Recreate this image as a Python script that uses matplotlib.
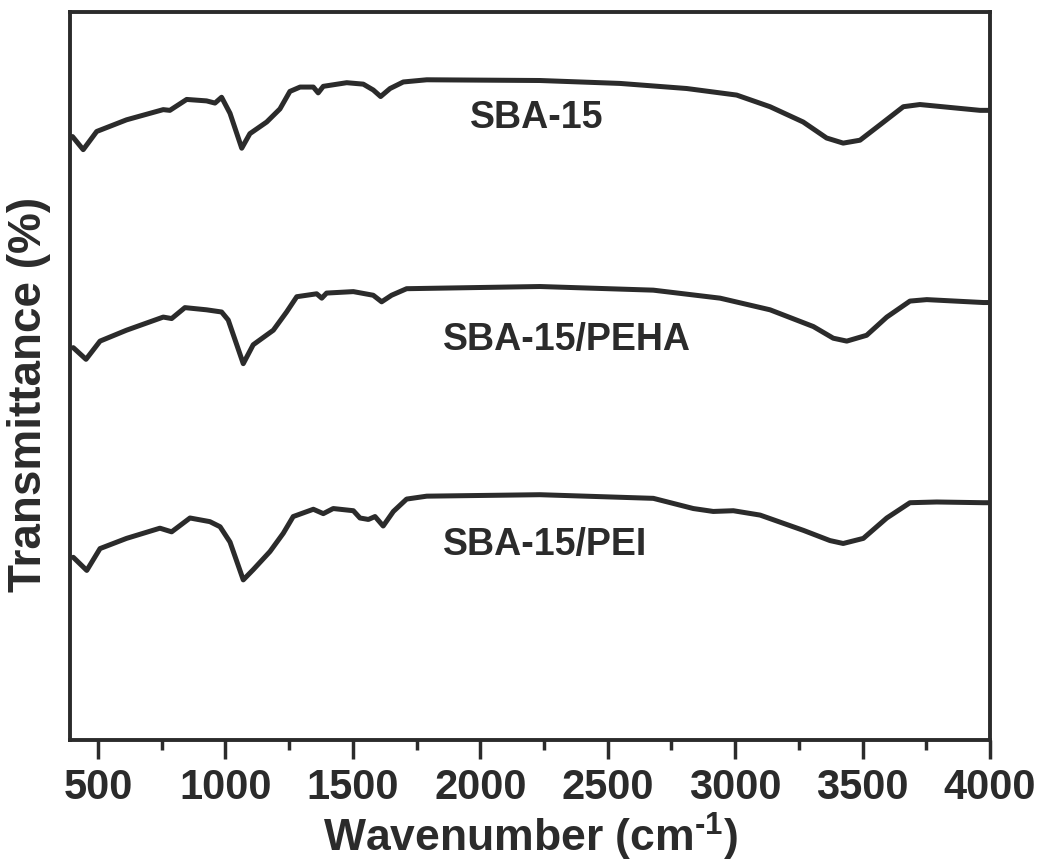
#FTIR spectra of SBA-15 and the amine loaded samples
import numpy as np
import matplotlib
matplotlib.use("Agg")
import matplotlib.pyplot as plt
from matplotlib.ticker import MultipleLocator

#%% DATA (transmittance in arbitrary %)
wnSBA = [400, 442, 495, 612, 756, 782, 848, 926, 959, 985, 1018, 1064, 1096, 1162, 1214, 1253, 1293,
         1345, 1364, 1384, 1476, 1541, 1580, 1609, 1646, 1698, 1790, 2234, 2548, 2810, 3006, 3137,
         3267, 3359, 3424, 3490, 3568, 3660, 3725, 3961, 4000]
tSBA = [82.9, 81.1, 83.6, 85.2, 86.6, 86.5, 88.0, 87.8, 87.5, 88.3, 86.1, 81.3, 83.3, 84.9, 86.7, 89.1, 89.7,
        89.7, 88.9, 89.8, 90.3, 90.1, 89.3, 88.4, 89.5, 90.4, 90.7, 90.6, 90.2, 89.5, 88.6, 87.0,
        84.9, 82.7, 82.0, 82.4, 84.5, 87.0, 87.3, 86.5, 86.5]

wnPEHA = [403, 453, 508, 612, 756, 789, 841, 926, 985, 1011, 1070, 1109, 1188, 1240, 1280, 1358, 1378,
          1397, 1502, 1580, 1613, 1652, 1711, 2234, 2679, 2941, 3137, 3307, 3385, 3438, 3516, 3595,
          3686, 3752, 3974, 4000]
tPEHA = [53.9, 52.3, 54.8, 56.3, 58.1, 57.9, 59.4, 59.1, 58.8, 57.7, 51.7, 54.3, 56.3, 58.8, 60.9, 61.3, 60.7,
         61.4, 61.6, 61.1, 60.2, 61.1, 62.0, 62.3, 61.8, 60.7, 59.1, 56.8, 55.2, 54.8, 55.6, 58.1,
         60.3, 60.5, 60.1, 60.1]

wnPEI = [403, 456, 508, 612, 743, 789, 861, 939, 979, 1018, 1070, 1109, 1175, 1227, 1266, 1345, 1384,
         1423, 1502, 1528, 1561, 1587, 1619, 1659, 1711, 1790, 2234, 2679, 2836, 2914, 2993, 3098,
         3268, 3372, 3424, 3503, 3595, 3686, 3791, 3974, 4000]
tPEI = [25.1, 23.3, 26.3, 27.7, 29.1, 28.6, 30.5, 30.0, 29.3, 27.2, 22.0, 23.4, 25.9, 28.4, 30.7, 31.7, 31.1,
        31.8, 31.5, 30.5, 30.3, 30.7, 29.4, 31.4, 33.1, 33.5, 33.7, 33.2, 31.8, 31.4, 31.5, 30.9,
        28.8, 27.4, 27.0, 27.7, 30.5, 32.6, 32.7, 32.6, 32.6]

sampleNames = ["SBA-15", "SBA-15/PEHA", "SBA-15/PEI"]
labelX = [1960, 1854, 1854]
labelY = [85.4, 54.9, 26.8]

#%% PLOT
plt.rcParams["font.family"] = ["Liberation Sans", "DejaVu Sans"]
plt.rcParams["font.weight"] = "bold"
plt.rcParams["mathtext.fontset"] = "custom"
plt.rcParams["mathtext.rm"] = "Liberation Sans:bold"
plt.rcParams["mathtext.bf"] = "Liberation Sans:bold"

ink = "#2b2b2b"
fig = plt.figure(figsize=(10.41, 8.63), dpi=100)
ax = fig.add_axes([0.0672, 0.1425, 0.8838, 0.8435])

for wn, t in [(wnSBA, tSBA), (wnPEHA, tPEHA), (wnPEI, tPEI)]:
    ax.plot(wn, t, color=ink, lw=3.6, solid_joinstyle="round", solid_capstyle="round")

for name, x, y in zip(sampleNames, labelX, labelY):
    ax.text(x, y, name, fontsize=27, fontweight="bold", color=ink, ha="left", va="center")

ax.set_xlim(390, 4000)
ax.set_ylim(0, 100)
ax.xaxis.set_major_locator(MultipleLocator(500))
ax.xaxis.set_minor_locator(MultipleLocator(250))
ax.tick_params(axis="x", which="major", direction="out", length=14, width=2.5, color=ink,
               labelsize=30, pad=6, labelcolor=ink)
ax.tick_params(axis="x", which="minor", direction="out", length=7, width=2.5, color=ink)
ax.set_yticks([])
for sp in ax.spines.values():
    sp.set_linewidth(2.8)
    sp.set_color(ink)

ax.set_xlabel(r"Wavenumber (cm$^{\text{-1}}$)", fontsize=32, fontweight="bold", color=ink, labelpad=2)
ax.set_ylabel("Transmittance (%)", fontsize=33, fontweight="bold", color=ink)
ax.yaxis.set_label_coords(-0.021, 0.475)

fig.savefig("out.png", dpi=100)
